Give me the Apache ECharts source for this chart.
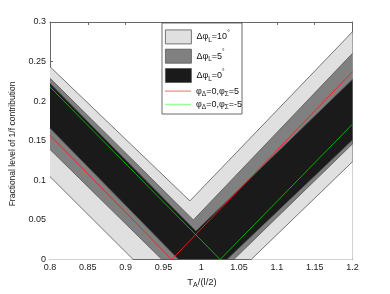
<!DOCTYPE html>
<html>
<head>
<meta charset="utf-8">
<script src="https://cdn.jsdelivr.net/npm/echarts@6/dist/echarts.min.js"></script>
<style>
html,body{margin:0;padding:0;background:#fff;}
#c{width:390px;height:294px;}
</style>
</head>
<body>
<div id="c"></div>
<script>
// ---- data ----
const xTicks = [0.8, 0.85, 0.9, 0.95, 1, 1.05, 1.1, 1.15, 1.2];
const yTicks = [0, 0.05, 0.1, 0.15, 0.2, 0.25, 0.3];

// Δφ_L = 10° band
const band10Upper = [[0.8, 0.2435], [0.985, 0.074], [1.2, 0.2877]];
const band10Lower = [[0.8, 0.1046], [0.910, 0], [1.066, 0], [1.2, 0.1235]];
// Δφ_L = 5° band
const band5Upper = [[0.8, 0.229], [0.9896, 0.050], [1.2, 0.2604]];
const band5Lower = [[0.8, 0.139], [0.948, 0], [1.043, 0], [1.2, 0.146]];
// Δφ_L = 0° band
const band0Upper = [[0.8, 0.2226], [0.993, 0.036], [1.2, 0.2276]];
const band0Lower = [[0.8, 0.1657], [0.970, 0], [1.034, 0], [1.2, 0.151]];
// lines
const redLine = [[0.8, 0.157], [0.961, 0], [1.2, 0.2372]];
const greenLine = [[0.8, 0.218], [1.025, 0], [1.2, 0.171]];

const legendLabels = {
  'b10': 'Δφ{sub|L}=10{sup|°}',
  'b5': 'Δφ{sub|L}=5{sup|°}',
  'b0': 'Δφ{sub|L}=0{sup|°}',
  'red': 'φ{sub|Δ}=0,φ{sub|Σ}=5',
  'green': 'φ{sub|Δ}=0,φ{sub|Σ}=-5'
};

const FONT = 'Liberation Sans, Arial, Helvetica, sans-serif';
const LIGHT = '#e0e0e0', GRAY = '#808080', BLACK = '#1a1a1a', WHITE = '#ffffff';
const EDGE = '#555555';

function fill(name, data, color, z) {
  return {
    name: name, type: 'line', data: data, showSymbol: false, symbol: 'none',
    z: z, silent: true, animation: false,
    lineStyle: { color: EDGE, width: 0.8 },
    areaStyle: { color: color, opacity: 1 },
    itemStyle: { color: color }
  };
}
function line(name, data, color) {
  return {
    name: name, type: 'line', data: data, showSymbol: false, symbol: 'none',
    z: 10, silent: true, animation: false,
    lineStyle: { color: color, width: 0.9 },
    itemStyle: { color: color }
  };
}

function makeRich(lh) {
  return {
    n: { fontSize: 9, fontFamily: FONT, color: '#111', lineHeight: lh, verticalAlign: 'middle' },
    sub: { fontSize: 6.5, fontFamily: FONT, color: '#111', lineHeight: 6, verticalAlign: 'bottom' },
    sup: { fontSize: 6.5, fontFamily: FONT, color: '#111', lineHeight: 6, verticalAlign: 'top' }
  };
}
const fmt = n => '{n|' + legendLabels[n].replace(/\{(sub|sup)\|([^}]*)\}/g, '}{$1|$2}{n|') + '}';

const axisCommon = {
  type: 'value',
  axisLine: { show: true, onZero: false, lineStyle: { color: '#666', width: 1 } },
  axisTick: { show: true, inside: true, length: 3, lineStyle: { color: '#666' } },
  splitLine: { show: false }
};

const chart = echarts.init(document.getElementById('c'), null, { renderer: 'canvas' });
chart.setOption({
  animation: false,
  backgroundColor: '#fff',
  grid: { left: 50, right: 37.5, top: 22, bottom: 34.5, show: false },
  xAxis: [Object.assign({}, axisCommon, {
    min: 0.8, max: 1.2, interval: 0.05,
    axisLabel: {
      margin: 4, fontSize: 9, fontFamily: FONT, color: '#222',
      formatter: v => { const t = xTicks.find(k => Math.abs(k - v) < 1e-6); return t === undefined ? '' : String(t); }
    }
  }), Object.assign({}, axisCommon, {
    min: 0.8, max: 1.2, interval: 0.05, position: 'top', axisLabel: { show: false }
  })],
  yAxis: [Object.assign({}, axisCommon, {
    min: 0, max: 0.3, interval: 0.05,
    axisLabel: {
      margin: 4, fontSize: 9, fontFamily: FONT, color: '#222',
      formatter: v => { const t = yTicks.find(k => Math.abs(k - v) < 1e-6); return t === undefined ? '' : String(t); }
    }
  }), Object.assign({}, axisCommon, {
    min: 0, max: 0.3, interval: 0.05, position: 'right', axisLabel: { show: false }
  })],
  legend: [{
    orient: 'vertical', left: 165, top: 29.5, itemWidth: 26, itemHeight: 14, itemGap: 4.5,
    icon: 'rect', selectedMode: false, padding: 0,
    data: [
      { name: 'b10', itemStyle: { color: LIGHT, borderColor: EDGE, borderWidth: 0.8 } },
      { name: 'b5', itemStyle: { color: GRAY, borderColor: EDGE, borderWidth: 0.8 } },
      { name: 'b0', itemStyle: { color: BLACK, borderColor: EDGE, borderWidth: 0.8 } }
    ],
    formatter: fmt,
    textStyle: { fontSize: 9, fontFamily: FONT, color: '#111', rich: makeRich(14) }
  }, {
    orient: 'vertical', left: 165, top: 84.5, itemWidth: 26, itemHeight: 1.5, itemGap: 0,
    icon: 'rect', selectedMode: false, padding: 0,
    data: [
      { name: 'red', itemStyle: { color: '#ff9999' } },
      { name: 'green', itemStyle: { color: '#99ff99' } }
    ],
    formatter: fmt,
    textStyle: { fontSize: 9, fontFamily: FONT, color: '#111', lineHeight: 13.3, height: 13.3, rich: makeRich(13.3) }
  }],
  graphic: [
    { type: 'rect', z: 3, shape: { x: 162, y: 23, width: 80, height: 91 }, style: { fill: '#fff', stroke: '#444', lineWidth: 0.8 } },
    { type: 'text', z: 5, x: 13, y: 144, rotation: Math.PI / 2,
      style: { text: 'Fractional level of 1/f contribution', fontSize: 8.5, fontFamily: FONT, fill: '#222', textAlign: 'center', textVerticalAlign: 'middle' } },
    { type: 'text', z: 5, x: 202, y: 282,
      style: { text: '{n|T}{sub|A}{n|/(l/2)}', textAlign: 'center', textVerticalAlign: 'middle', rich: {
        n: { fontSize: 9.5, fontFamily: FONT, fill: '#222', lineHeight: 14, verticalAlign: 'middle' },
        sub: { fontSize: 7, fontFamily: FONT, fill: '#222', lineHeight: 6, verticalAlign: 'bottom' } } } }
  ],
  series: [
    fill('b10', band10Upper, LIGHT, 2),
    fill('b5', band5Upper, GRAY, 3),
    fill('b0', band0Upper, BLACK, 4),
    fill('b0lo', band0Lower, GRAY, 5),
    fill('b5lo', band5Lower, LIGHT, 6),
    fill('b10lo', band10Lower, WHITE, 7),
    line('red', redLine, '#ff1a1a'),
    line('green', greenLine, '#00c000')
  ]
});
</script>
</body>
</html>
